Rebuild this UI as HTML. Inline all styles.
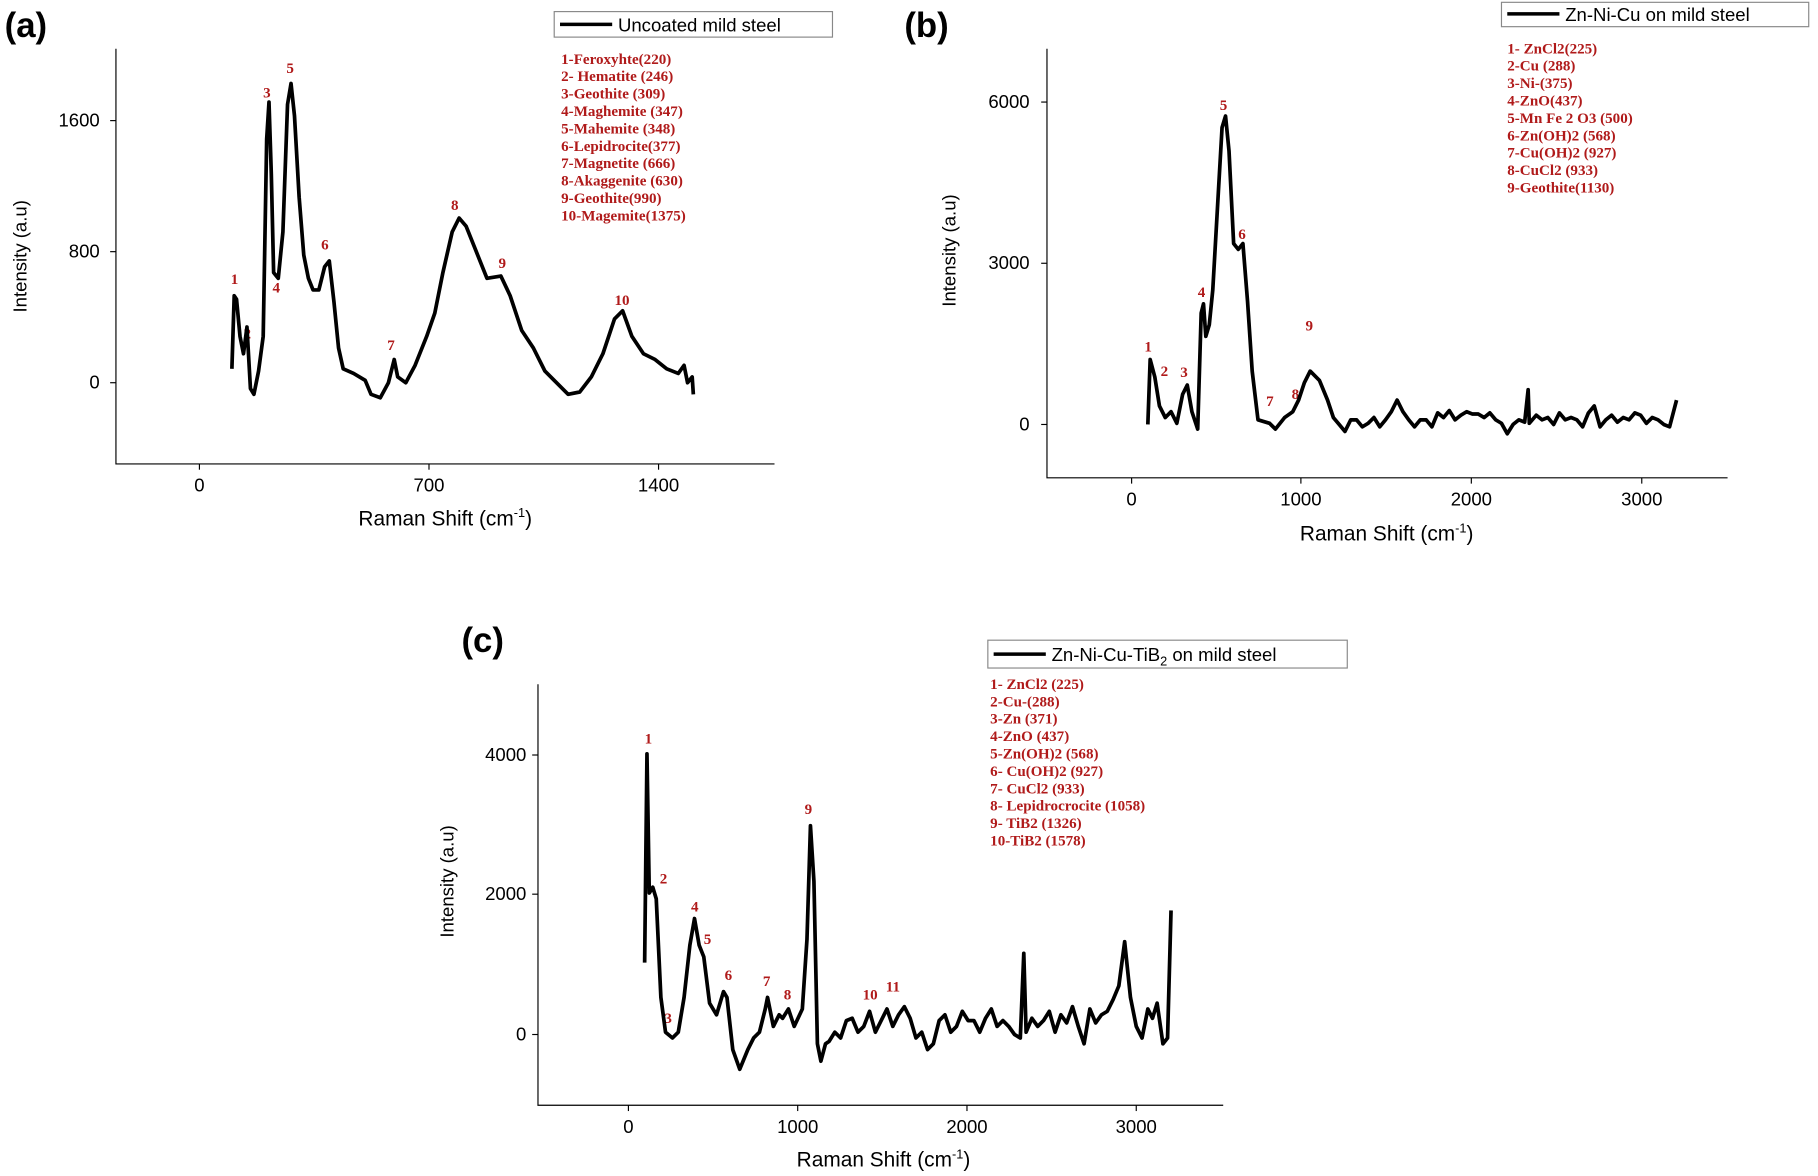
<!DOCTYPE html>
<html><head><meta charset="utf-8"><style>
html,body{margin:0;padding:0;background:#fff}
svg{display:block}
.ax{font-family:"Liberation Sans",sans-serif;font-size:16px;fill:#000}
.lab{font-family:"Liberation Sans",sans-serif;font-size:18px;fill:#000}
.pl{font-family:"Liberation Serif",serif;font-size:13px;font-weight:bold;fill:#b01a1a}
.pn{font-family:"Liberation Serif",serif;font-size:13px;font-weight:bold;fill:#b01a1a}
.big{font-family:"Liberation Sans",sans-serif;font-size:30px;font-weight:bold;fill:#000}
.d{fill:none;stroke:#000;stroke-width:3.2;stroke-linejoin:round}
.box{fill:none;stroke:#000;stroke-width:1}
</style></head><body>
<svg width="1818" height="1176" viewBox="0 0 1568 1014" preserveAspectRatio="none" xmlns="http://www.w3.org/2000/svg">
<!-- Panel a -->
<text class="big" x="4" y="32">(a)</text>
<polyline class="box" points="100,42 100,400 668,400"/>
<g stroke="#000"><line x1="172" y1="400" x2="172" y2="405"/><line x1="370" y1="400" x2="370" y2="405"/><line x1="568" y1="400" x2="568" y2="405"/><line x1="95" y1="104" x2="100" y2="104"/><line x1="95" y1="217" x2="100" y2="217"/><line x1="95" y1="330" x2="100" y2="330"/></g>
<text class="ax" x="172" y="424" text-anchor="middle">0</text><text class="ax" x="370" y="424" text-anchor="middle">700</text><text class="ax" x="568" y="424" text-anchor="middle">1400</text>
<text class="ax" x="86" y="109" text-anchor="end">1600</text><text class="ax" x="86" y="222" text-anchor="end">800</text><text class="ax" x="86" y="335" text-anchor="end">0</text>
<text class="lab" x="384" y="453" text-anchor="middle">Raman Shift (cm<tspan dy="-7" font-size="11">-1</tspan><tspan dy="7">)</tspan></text>
<text class="ax" transform="translate(23,221) rotate(-90)" text-anchor="middle">Intensity (a.u)</text>
<rect x="478" y="10" width="240" height="22" fill="#fff" stroke="#888"/>
<line x1="483" y1="21" x2="528" y2="21" stroke="#000" stroke-width="3"/>
<text class="ax" x="533" y="27" font-size="17">Uncoated mild steel</text>
<g class="pl"><text x="484" y="55">1-Feroxyhte(220)</text><text x="484" y="70">2- Hematite (246)</text><text x="484" y="85">3-Geothite (309)</text><text x="484" y="100">4-Maghemite (347)</text><text x="484" y="115">5-Mahemite (348)</text><text x="484" y="130">6-Lepidrocite(377)</text><text x="484" y="145">7-Magnetite (666)</text><text x="484" y="160">8-Akaggenite (630)</text><text x="484" y="175">9-Geothite(990)</text><text x="484" y="190">10-Magemite(1375)</text></g>
<g class="pn"><text x="199" y="245">1</text><text x="210" y="292">2</text><text x="227" y="84">3</text><text x="235" y="252">4</text><text x="247" y="63">5</text><text x="277" y="215">6</text><text x="334" y="302">7</text><text x="389" y="181">8</text><text x="430" y="231">9</text><text x="530" y="263">10</text></g>
<polyline class="d" points="200,318 202,255 204,258 207,290 210,305 213,282 216,335 219,340 223,320 227,290 230,120 232,88 234,150 236,235 240,240 244,200 248,90 251,72 254,100 258,170 262,220 266,240 270,250 275,250 280,230 284,225 288,260 292,300 296,318 305,322 315,328 320,340 328,343 335,330 340,310 343,325 350,330 358,315 368,290 375,270 382,235 390,200 396,188 402,195 410,215 420,240 432,238 440,255 450,285 460,300 470,320 480,330 490,340 500,338 510,325 520,305 530,275 537,268 545,290 555,305 565,310 575,318 585,322 590,315 593,330 597,325 598,340"/>
<!-- Panel b -->
<text class="big" x="780" y="32">(b)</text>
<polyline class="box" points="903,42 903,412 1490,412"/>
<g stroke="#000"><line x1="976" y1="412" x2="976" y2="417"/><line x1="1122" y1="412" x2="1122" y2="417"/><line x1="1269" y1="412" x2="1269" y2="417"/><line x1="1416" y1="412" x2="1416" y2="417"/><line x1="898" y1="88" x2="903" y2="88"/><line x1="898" y1="227" x2="903" y2="227"/><line x1="898" y1="366" x2="903" y2="366"/></g>
<text class="ax" x="976" y="436" text-anchor="middle">0</text><text class="ax" x="1122" y="436" text-anchor="middle">1000</text><text class="ax" x="1269" y="436" text-anchor="middle">2000</text><text class="ax" x="1416" y="436" text-anchor="middle">3000</text>
<text class="ax" x="888" y="93" text-anchor="end">6000</text><text class="ax" x="888" y="232" text-anchor="end">3000</text><text class="ax" x="888" y="371" text-anchor="end">0</text>
<text class="lab" x="1196" y="466" text-anchor="middle">Raman Shift (cm<tspan dy="-7" font-size="11">-1</tspan><tspan dy="7">)</tspan></text>
<text class="ax" transform="translate(824,216) rotate(-90)" text-anchor="middle">Intensity (a.u)</text>
<rect x="1295" y="2" width="265" height="21" fill="#fff" stroke="#888"/>
<line x1="1300" y1="12" x2="1345" y2="12" stroke="#000" stroke-width="3"/>
<text class="ax" x="1350" y="18" font-size="17">Zn-Ni-Cu on mild steel</text>
<g class="pl"><text x="1300" y="46">1- ZnCl2(225)</text><text x="1300" y="61">2-Cu (288)</text><text x="1300" y="76">3-Ni-(375)</text><text x="1300" y="91">4-ZnO(437)</text><text x="1300" y="106">5-Mn Fe 2 O3 (500)</text><text x="1300" y="121">6-Zn(OH)2 (568)</text><text x="1300" y="136">7-Cu(OH)2 (927)</text><text x="1300" y="151">8-CuCl2 (933)</text><text x="1300" y="166">9-Geothite(1130)</text></g>
<g class="pn"><text x="987" y="303">1</text><text x="1001" y="324">2</text><text x="1018" y="325">3</text><text x="1033" y="256">4</text><text x="1052" y="95">5</text><text x="1068" y="206">6</text><text x="1092" y="350">7</text><text x="1114" y="344">8</text><text x="1126" y="285">9</text></g>
<polyline class="d" points="990,366 992,310 996,325 1000,350 1005,360 1010,355 1015,365 1020,340 1024,332 1028,355 1033,370 1036,270 1038,262 1040,290 1043,280 1046,250 1050,180 1054,110 1057,100 1060,130 1064,210 1068,215 1072,210 1076,260 1080,320 1085,362 1095,365 1100,370 1108,360 1115,355 1120,345 1125,330 1130,320 1138,328 1145,345 1150,360 1155,366 1160,372 1165,362 1170,362 1175,368 1180,365 1185,360 1190,368 1195,362 1200,355 1205,345 1210,355 1215,362 1220,368 1225,362 1230,362 1235,368 1240,356 1245,360 1250,354 1255,362 1260,358 1265,355 1270,357 1275,357 1280,360 1285,356 1290,362 1295,365 1300,374 1305,366 1310,362 1315,364 1318,336 1319,365 1325,358 1330,362 1335,360 1340,366 1345,356 1350,362 1355,360 1360,362 1365,368 1370,356 1375,350 1380,368 1385,362 1390,358 1395,364 1400,360 1405,362 1410,356 1415,358 1420,365 1425,360 1430,362 1435,366 1440,368 1446,345"/>
<!-- Panel c -->
<text class="big" x="398" y="562">(c)</text>
<polyline class="box" points="464,590 464,953 1055,953"/>
<g stroke="#000"><line x1="542" y1="953" x2="542" y2="958"/><line x1="688" y1="953" x2="688" y2="958"/><line x1="834" y1="953" x2="834" y2="958"/><line x1="980" y1="953" x2="980" y2="958"/><line x1="459" y1="651" x2="464" y2="651"/><line x1="459" y1="771" x2="464" y2="771"/><line x1="459" y1="892" x2="464" y2="892"/></g>
<text class="ax" x="542" y="977" text-anchor="middle">0</text><text class="ax" x="688" y="977" text-anchor="middle">1000</text><text class="ax" x="834" y="977" text-anchor="middle">2000</text><text class="ax" x="980" y="977" text-anchor="middle">3000</text>
<text class="ax" x="454" y="656" text-anchor="end">4000</text><text class="ax" x="454" y="776" text-anchor="end">2000</text><text class="ax" x="454" y="897" text-anchor="end">0</text>
<text class="lab" x="762" y="1006" text-anchor="middle">Raman Shift (cm<tspan dy="-7" font-size="11">-1</tspan><tspan dy="7">)</tspan></text>
<text class="ax" transform="translate(391,760) rotate(-90)" text-anchor="middle">Intensity (a.u)</text>
<rect x="852" y="552" width="310" height="24" fill="#fff" stroke="#888"/>
<line x1="857" y1="564" x2="902" y2="564" stroke="#000" stroke-width="3"/>
<text class="ax" x="907" y="570" font-size="17">Zn-Ni-Cu-TiB<tspan dy="4" font-size="11">2</tspan><tspan dy="-4"> on mild steel</tspan></text>
<g class="pl"><text x="854" y="594">1- ZnCl2 (225)</text><text x="854" y="609">2-Cu-(288)</text><text x="854" y="624">3-Zn (371)</text><text x="854" y="639">4-ZnO (437)</text><text x="854" y="654">5-Zn(OH)2 (568)</text><text x="854" y="669">6- Cu(OH)2 (927)</text><text x="854" y="684">7- CuCl2 (933)</text><text x="854" y="699">8- Lepidrocrocite (1058)</text><text x="854" y="714">9- TiB2 (1326)</text><text x="854" y="729">10-TiB2 (1578)</text></g>
<g class="pn"><text x="556" y="641">1</text><text x="569" y="762">2</text><text x="573" y="882">3</text><text x="596" y="786">4</text><text x="607" y="814">5</text><text x="625" y="845">6</text><text x="658" y="850">7</text><text x="676" y="862">8</text><text x="694" y="702">9</text><text x="744" y="862">10</text><text x="764" y="855">11</text></g>
<polyline class="d" points="556,830 558,650 560,770 563,765 566,775 570,860 574,890 580,895 585,890 590,860 595,815 599,792 603,815 607,825 612,865 618,875 624,855 627,860 632,905 638,922 645,905 650,895 655,890 660,870 662,860 667,885 672,875 675,878 680,870 685,885 692,870 696,810 699,712 702,760 705,900 708,915 712,900 715,898 720,890 725,895 730,880 735,878 740,890 745,885 750,872 755,890 760,880 765,870 770,885 775,875 780,868 785,878 790,895 795,890 800,905 805,900 810,880 815,875 820,890 825,885 830,872 835,880 840,880 845,890 850,878 855,870 860,885 865,880 870,885 875,892 880,895 883,822 885,890 890,878 895,885 900,880 905,872 910,890 915,875 920,882 925,868 930,885 935,900 940,870 945,882 950,875 955,872 960,862 965,850 970,812 975,860 980,885 985,895 988,880 990,870 994,878 998,865 1003,900 1007,895 1010,785"/>
</svg>
</body></html>
